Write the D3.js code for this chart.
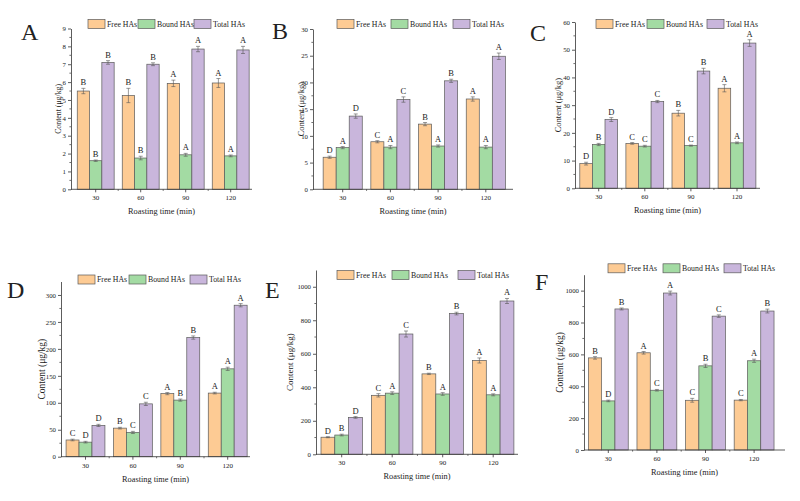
<!DOCTYPE html>
<html>
<head>
<meta charset="utf-8">
<script src="https://cdn.jsdelivr.net/npm/d3@7"></script>
<style>
  body { margin: 0; background: #fff; }
  svg { display: block; }
  text { font-family: "Liberation Serif", "Times New Roman", serif; fill: #222; }
</style>
</head>
<body>
<svg id="chart" width="800" height="501"></svg>
<script>
// shared categories / series
var times = ["30", "60", "90", "120"];
var seriesNames = ["Free HAs", "Bound HAs", "Total HAs"];
var seriesColors = ["#fdcb94", "#a3dba3", "#c9b6dc"];

// panel A
var valuesA = [[5.50, 5.25, 5.93, 5.95], [1.60, 1.75, 1.93, 1.87], [7.10, 7.00, 7.85, 7.80]];
var errorsA = [[0.15, 0.40, 0.18, 0.25], [0.04, 0.10, 0.08, 0.05], [0.10, 0.08, 0.15, 0.20]];
var lettersA = [["B", "B", "A", "A"], ["B", "B", "A", "A"], ["B", "B", "A", "A"]];
var ticksA = [0, 1, 2, 3, 4, 5, 6, 7, 8, 9];

// panel B
var valuesB = [[6.0, 8.9, 12.2, 16.9], [7.8, 7.9, 8.1, 7.9], [13.7, 16.8, 20.3, 24.9]];
var errorsB = [[0.2, 0.2, 0.3, 0.4], [0.2, 0.3, 0.2, 0.3], [0.4, 0.5, 0.3, 0.6]];
var lettersB = [["D", "C", "B", "A"], ["A", "A", "A", "A"], ["D", "C", "B", "A"]];
var ticksB = [0, 5, 10, 15, 20, 25, 30];

// panel C
var valuesC = [[8.9, 16.2, 27.1, 36.1], [15.8, 15.2, 15.4, 16.4], [24.8, 31.3, 42.3, 52.4]];
var errorsC = [[0.5, 0.3, 1.0, 1.3], [0.4, 0.3, 0.2, 0.3], [0.7, 0.4, 1.0, 1.2]];
var lettersC = [["D", "C", "B", "A"], ["B", "C", "C", "A"], ["D", "C", "B", "A"]];
var ticksC = [0, 10, 20, 30, 40, 50, 60];

// panel D
var valuesD = [[31, 53, 117, 118], [27, 45, 105, 163], [58, 98, 221, 281]];
var errorsD = [[1.5, 1.5, 2, 1.5], [1.5, 2, 2, 3], [2, 3, 3, 3]];
var lettersD = [["C", "B", "A", "A"], ["D", "C", "B", "A"], ["D", "C", "B", "A"]];
var ticksD = [0, 50, 100, 150, 200, 250, 300];

// panel E
var valuesE = [[102, 352, 480, 560], [115, 365, 360, 355], [220, 718, 840, 915]];
var errorsE = [[3, 10, 4, 15], [5, 8, 8, 6], [5, 18, 8, 15]];
var lettersE = [["D", "C", "B", "A"], ["B", "A", "A", "A"], ["D", "C", "B", "A"]];
var ticksE = [0, 200, 400, 600, 800, 1000];

// panel F
var valuesF = [[578, 610, 312, 313], [308, 375, 528, 560], [885, 985, 840, 872]];
var errorsF = [[8, 8, 12, 4], [5, 5, 10, 10], [6, 12, 8, 12]];
var lettersF = [["B", "A", "C", "C"], ["D", "C", "B", "A"], ["B", "A", "C", "B"]];
var ticksF = [0, 200, 400, 600, 800, 1000];

// where each panel sits on the page
var panels = [
  {label: "A", values: valuesA, errors: errorsA, letters: lettersA, ticks: ticksA, yMax: 9,
   left: 71, right: 252, c0: 95.7, step: 45, y0: 189.3, yTop: 28.5,
   lx: [88, 138, 194], ly: 24, tx: 21, ty: 39.5, ytx: 58, ytf: 7.8},
  {label: "B", values: valuesB, errors: errorsB, letters: lettersB, ticks: ticksB, yMax: 30,
   left: 313, right: 513, c0: 342.7, step: 47.7, y0: 189.3, yTop: 29,
   lx: [337, 391, 453], ly: 24, tx: 272, ty: 39, ytx: 301, ytf: 8.5},
  {label: "C", values: valuesC, errors: errorsC, letters: lettersC, ticks: ticksC, yMax: 60,
   left: 575, right: 760, c0: 598.7, step: 46.1, y0: 188.3, yTop: 22,
   lx: [596, 647, 707], ly: 24, tx: 530, ty: 40.5, ytx: 558, ytf: 8.5},
  {label: "D", values: valuesD, errors: errorsD, letters: lettersD, ticks: ticksD, yMax: 325,
   left: 61, right: 250, c0: 85.5, step: 47.4, y0: 456.7, yTop: 281.5,
   lx: [78, 129, 190], ly: 279.5, tx: 7, ty: 298, ytx: 42, ytf: 9.5},
  {label: "E", values: valuesE, errors: errorsE, letters: lettersE, ticks: ticksE, yMax: 1100,
   left: 316, right: 518, c0: 341.7, step: 50.5, y0: 454.3, yTop: 270,
   lx: [337, 392, 458], ly: 275, tx: 265, ty: 298, ytx: 290, ytf: 9},
  {label: "F", values: valuesF, errors: errorsF, letters: lettersF, ticks: ticksF, yMax: 1100,
   left: 584, right: 785, c0: 608.3, step: 48.6, y0: 450, yTop: 274.7,
   lx: [608, 663, 724], ly: 268.3, tx: 535, ty: 290, ytx: 560, ytf: 9.5}
];

var svg = d3.select("#chart");
var axisColor = "#333";
var serif = "Liberation Serif, Times New Roman, serif";

panels.forEach(function(p) {
  var g = svg.append("g");

  var x = d3.scaleBand()
    .domain(times)
    .range([p.c0 - p.step / 2, p.c0 + 3.5 * p.step])
    .padding(0);
  var gw = p.step * 0.82;
  var xs = d3.scaleBand()
    .domain(seriesNames)
    .range([(x.bandwidth() - gw) / 2, (x.bandwidth() + gw) / 2]);
  var y = d3.scaleLinear().domain([0, p.yMax]).range([p.y0, p.yTop]);
  var mid = function(d, s) { return x(d) + xs(s) + xs.bandwidth() / 2; };

  // bars
  seriesNames.forEach(function(s, si) {
    g.selectAll(".bar" + si)
      .data(times)
      .enter().append("rect")
      .attr("x", function(d) { return x(d) + xs(s); })
      .attr("width", xs.bandwidth())
      .attr("y", function(d, i) { return y(p.values[si][i]); })
      .attr("height", function(d, i) { return p.y0 - y(p.values[si][i]); })
      .attr("fill", seriesColors[si])
      .attr("stroke", "#5a5a5a")
      .attr("stroke-width", 0.7);

    // error bars
    var eb = g.selectAll(".err" + si)
      .data(times)
      .enter().append("g")
      .attr("stroke", "#555")
      .attr("stroke-width", 0.6);
    eb.append("line")
      .attr("x1", function(d) { return mid(d, s); })
      .attr("x2", function(d) { return mid(d, s); })
      .attr("y1", function(d, i) { return y(p.values[si][i] - p.errors[si][i]); })
      .attr("y2", function(d, i) { return y(p.values[si][i] + p.errors[si][i]); });
    [-1, 1].forEach(function(sign) {
      eb.append("line")
        .attr("x1", function(d) { return mid(d, s) - 2; })
        .attr("x2", function(d) { return mid(d, s) + 2; })
        .attr("y1", function(d, i) { return y(p.values[si][i] + sign * p.errors[si][i]); })
        .attr("y2", function(d, i) { return y(p.values[si][i] + sign * p.errors[si][i]); });
    });

    // significance letters
    g.selectAll(".let" + si)
      .data(times)
      .enter().append("text")
      .attr("x", function(d) { return mid(d, s); })
      .attr("y", function(d, i) { return y(p.values[si][i] + p.errors[si][i]) - 3; })
      .attr("text-anchor", "middle")
      .attr("font-size", 8.5)
      .text(function(d, i) { return p.letters[si][i]; });
  });

  // y axis
  var yAxis = g.append("g")
    .attr("transform", "translate(" + p.left + ",0)")
    .call(d3.axisLeft(y).tickValues(p.ticks).tickFormat(d3.format("d"))
      .tickSize(3).tickSizeOuter(0).tickPadding(2));
  yAxis.selectAll("text").attr("font-size", 6.8).attr("fill", "#222").style("font-family", serif);
  yAxis.selectAll("line, path").attr("stroke", axisColor).attr("stroke-width", 0.8);
  var half = (p.ticks[1] - p.ticks[0]) / 2;
  var minors = p.ticks.map(function(t) { return t + half; }).filter(function(t) { return t < p.yMax; });
  g.selectAll(".yminor")
    .data(minors)
    .enter().append("line")
    .attr("x1", p.left - 1.6).attr("x2", p.left)
    .attr("y1", function(d) { return y(d); }).attr("y2", function(d) { return y(d); })
    .attr("stroke", axisColor).attr("stroke-width", 0.7);

  // x axis
  var xAxis = g.append("g")
    .attr("transform", "translate(0," + p.y0 + ")")
    .call(d3.axisBottom(x).tickSize(3).tickPadding(3));
  xAxis.select(".domain").remove();
  xAxis.selectAll("text").attr("font-size", 7).attr("fill", "#222").style("font-family", serif);
  xAxis.selectAll("line").attr("stroke", axisColor).attr("stroke-width", 0.8);
  g.append("line")
    .attr("x1", p.left).attr("x2", p.right)
    .attr("y1", p.y0).attr("y2", p.y0)
    .attr("stroke", axisColor).attr("stroke-width", 0.8);
  g.selectAll(".xminor")
    .data(times.slice(1))
    .enter().append("line")
    .attr("x1", function(d) { return x(d); }).attr("x2", function(d) { return x(d); })
    .attr("y1", p.y0).attr("y2", p.y0 + 1.6)
    .attr("stroke", axisColor).attr("stroke-width", 0.7);

  // axis titles
  g.append("text")
    .attr("x", (p.left + p.right) / 2)
    .attr("y", p.y0 + 25)
    .attr("text-anchor", "middle")
    .attr("font-size", 8.3)
    .text("Roasting time (min)");
  g.append("text")
    .attr("transform", "translate(" + p.ytx + "," + (p.y0 + p.yTop) / 2 + ") rotate(-90)")
    .attr("text-anchor", "middle")
    .attr("dy", "0.35em")
    .attr("font-size", p.ytf)
    .text("Content (μg/kg)");

  // legend
  seriesNames.forEach(function(s, si) {
    g.append("rect")
      .attr("x", p.lx[si]).attr("y", p.ly - 4.5)
      .attr("width", 17).attr("height", 9)
      .attr("fill", seriesColors[si])
      .attr("stroke", "#5a5a5a").attr("stroke-width", 0.7);
    g.append("text")
      .attr("x", p.lx[si] + 19)
      .attr("y", p.ly + 2.8)
      .attr("font-size", 7.8)
      .text(s);
  });

  // panel letter
  g.append("text")
    .attr("x", p.tx).attr("y", p.ty)
    .attr("font-size", 24)
    .attr("fill", "#000")
    .text(p.label);
});
</script>
</body>
</html>
